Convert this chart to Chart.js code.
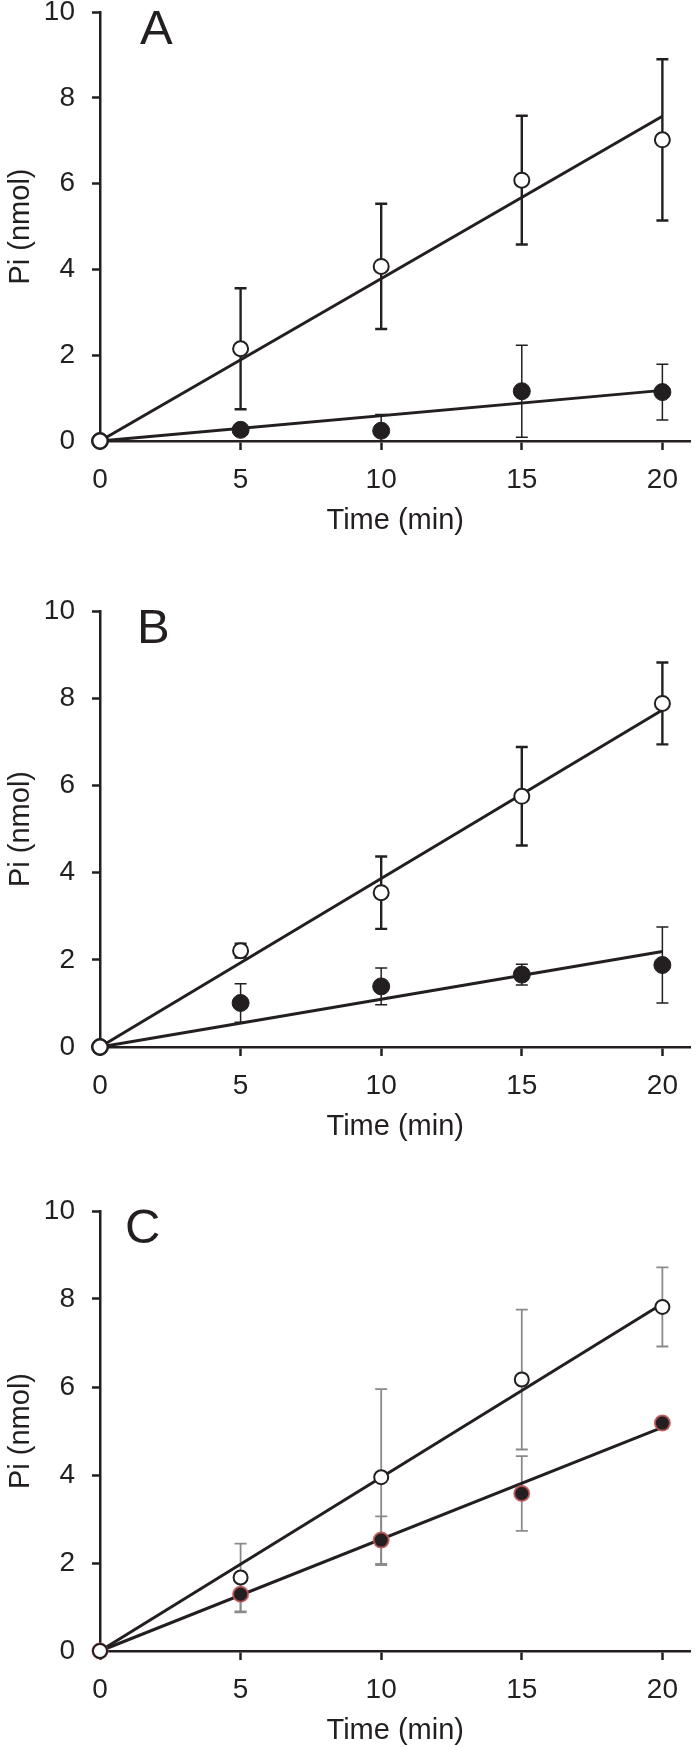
<!DOCTYPE html>
<html>
<head>
<meta charset="utf-8">
<script src="https://cdn.jsdelivr.net/npm/chart.js@4.4.1/dist/chart.umd.min.js"></script>
<style>
  html, body { margin: 0; padding: 0; background: #fff; }
  body { width: 700px; height: 1748px; position: relative; overflow: hidden; }
  canvas { position: absolute; left: 0; }
</style>
</head>
<body>
<canvas id="panelA" width="700" height="538" style="top:0px"></canvas>
<canvas id="panelB" width="700" height="545" style="top:599px"></canvas>
<canvas id="panelC" width="700" height="549" style="top:1199px"></canvas>
<script>
// shared axes
const times = [0, 5, 10, 15, 20];
const xTicks = [0, 5, 10, 15, 20];
const yTicks = [0, 2, 4, 6, 8, 10];
const fitX = [0, 20];

// panel A
const aOpen = [0, 2.15, 4.07, 6.08, 7.02];
const aOpenErr = [0, 1.41, 1.46, 1.50, 1.88];
const aFilled = [0, 0.26, 0.24, 1.16, 1.14];
const aFilledErr = [0, 0.05, 0.38, 1.07, 0.65];
const aOpenFit = [0, 7.57];
const aFilledFit = [0, 1.18];

// panel B
const bOpen = [0, 2.21, 3.54, 5.75, 7.88];
const bOpenErr = [0, 0.16, 0.83, 1.13, 0.94];
const bFilled = [0, 1.01, 1.39, 1.66, 1.88];
const bFilledErr = [0, 0.44, 0.42, 0.24, 0.87];
const bOpenFit = [0, 7.73];
const bFilledFit = [0, 2.19];

// panel C
const cOpen = [0, 1.67, 3.95, 6.17, 7.82];
const cOpenErr = [0, 0.77, 2.00, 1.59, 0.90];
const cFilled = [0, 1.29, 2.52, 3.58, 5.18];
const cFilledErr = [0, 0.41, 0.54, 0.85, 0.12];
const cOpenFit = [0, 7.89];
const cFilledFit = [0, 5.08];

const ink = '#231f20';
Chart.defaults.font.family = "'Liberation Sans', Arial, sans-serif";
Chart.defaults.color = ink;

// draws mean +/- err whiskers under the markers
const errorBars = {
    id: 'errorBars',
    beforeDatasetsDraw(chart, args, opts) {
        const { ctx, chartArea, scales: { x, y } } = chart;
        ctx.save();
        ctx.beginPath();
        ctx.rect(chartArea.left, chartArea.top, chartArea.width, chartArea.height);
        ctx.clip();
        opts.sets.forEach(set => {
            ctx.strokeStyle = set.color;
            ctx.lineWidth = set.width;
            set.means.forEach((m, i) => {
                const e = set.errs[i];
                if (!e) return;
                const px = x.getPixelForValue(times[i]);
                const top = y.getPixelForValue(m + e);
                const bot = y.getPixelForValue(m - e);
                ctx.beginPath();
                ctx.moveTo(px, top); ctx.lineTo(px, bot);
                ctx.moveTo(px - 6, top); ctx.lineTo(px + 6, top);
                ctx.moveTo(px - 6, bot); ctx.lineTo(px + 6, bot);
                ctx.stroke();
            });
        });
        ctx.restore();
    }
};

const panelLetter = {
    id: 'panelLetter',
    afterDraw(chart, args, opts) {
        const { ctx, chartArea } = chart;
        ctx.save();
        ctx.font = "49px 'Liberation Sans', Arial, sans-serif";
        ctx.fillStyle = ink;
        ctx.textBaseline = 'alphabetic';
        ctx.fillText(opts.text, chartArea.left + opts.dx, chartArea.top + 32);
        ctx.restore();
    }
};

const pts = (xs, ys) => xs.map((v, i) => ({ x: v, y: ys[i] }));

function makePanel(id, letter, dx, open, openErr, filled, filledErr, openFit, filledFit, look) {
    const ctx = document.getElementById(id).getContext('2d');
    return new Chart(ctx, {
        type: 'scatter',
        data: {
            datasets: [
                {
                    label: 'open',
                    data: pts(times, open),
                    pointRadius: look.openRadius,
                    pointBackgroundColor: '#fff',
                    pointBorderColor: ink,
                    pointBorderWidth: 2,
                    clip: false
                },
                {
                    label: 'filled',
                    data: pts(times, filled),
                    pointRadius: look.filledRadius,
                    pointBackgroundColor: ink,
                    pointBorderColor: look.filledEdge,
                    pointBorderWidth: look.filledEdgeWidth,
                    clip: false
                },
                {
                    label: 'open fit',
                    data: pts(fitX, openFit),
                    showLine: true,
                    pointRadius: 0,
                    borderColor: ink,
                    borderWidth: 3,
                    clip: false
                },
                {
                    label: 'filled fit',
                    data: pts(fitX, filledFit),
                    showLine: true,
                    pointRadius: 0,
                    borderColor: ink,
                    borderWidth: 3,
                    clip: false
                }
            ]
        },
        options: {
            responsive: false,
            animation: false,
            events: [],
            layout: { padding: { top: 12, right: 9, bottom: 0, left: 0 } },
            plugins: {
                legend: { display: false },
                tooltip: { enabled: false },
                errorBars: {
                    sets: [
                        { means: open, errs: openErr, color: look.openBarColor, width: look.openBarWidth },
                        { means: filled, errs: filledErr, color: look.filledBarColor, width: look.filledBarWidth }
                    ]
                },
                panelLetter: { text: letter, dx: dx }
            },
            scales: {
                x: {
                    type: 'linear',
                    min: 0,
                    max: 21,
                    afterBuildTicks: s => { s.ticks = xTicks.map(v => ({ value: v })); },
                    afterFit: s => { s.height = 97; s.paddingLeft = 0; s.paddingRight = 0; },
                    ticks: { font: { size: 28 }, color: ink, padding: 13, maxRotation: 0, autoSkip: false },
                    grid: { drawOnChartArea: false, drawTicks: true, tickLength: 9, tickWidth: 2.5, tickColor: ink },
                    border: { display: true, color: ink, width: 2.5 },
                    title: { display: true, text: 'Time (min)', font: { size: 29 }, color: ink, padding: { top: 0, bottom: 0 } }
                },
                y: {
                    type: 'linear',
                    min: 0,
                    max: 10,
                    afterBuildTicks: s => { s.ticks = yTicks.map(v => ({ value: v })); },
                    afterFit: s => { s.width = 100; s.paddingTop = 0; s.paddingBottom = 0; },
                    ticks: { font: { size: 28 }, color: ink, padding: 17 },
                    grid: { drawOnChartArea: false, drawTicks: true, tickLength: 8, tickWidth: 2.5, tickColor: ink },
                    border: { display: true, color: ink, width: 2.5 },
                    title: { display: true, text: 'Pi (nmol)', font: { size: 29 }, color: ink, padding: { top: 4, bottom: 0 } }
                }
            }
        },
        plugins: [errorBars, panelLetter]
    });
}

const blackLook = {
    openRadius: 7.5,
    filledRadius: 8.5, filledEdge: ink, filledEdgeWidth: 1,
    openBarColor: ink, openBarWidth: 2.4,
    filledBarColor: ink, filledBarWidth: 1.5
};
const greyLook = {
    openRadius: 7,
    filledRadius: 7.5, filledEdge: 'rgba(190, 85, 85, 0.85)', filledEdgeWidth: 2,
    openBarColor: '#8a8a8a', openBarWidth: 1.8,
    filledBarColor: '#8a8a8a', filledBarWidth: 1.8
};

makePanel('panelA', 'A', 40, aOpen, aOpenErr, aFilled, aFilledErr, aOpenFit, aFilledFit, blackLook);
makePanel('panelB', 'B', 37, bOpen, bOpenErr, bFilled, bFilledErr, bOpenFit, bFilledFit, blackLook);
makePanel('panelC', 'C', 25, cOpen, cOpenErr, cFilled, cFilledErr, cOpenFit, cFilledFit, greyLook);
</script>
</body>
</html>
